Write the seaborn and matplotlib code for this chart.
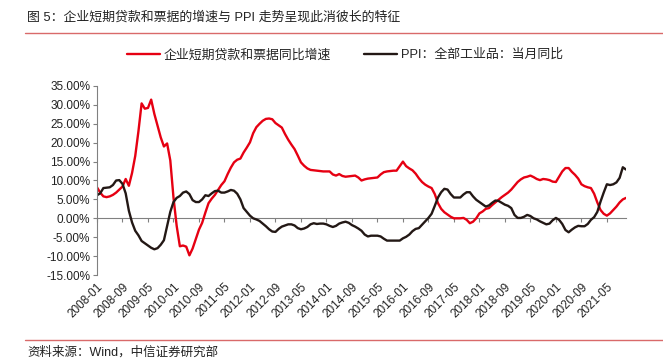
import pandas as pd
import seaborn as sns
import matplotlib.pyplot as plt
from matplotlib.lines import Line2D
from matplotlib.ticker import FuncFormatter

months = pd.date_range("2008-01-01", periods=167, freq="MS").strftime("%Y-%m").tolist()

# 企业短期贷款和票据同比增速 (%)
loan_growth = [
    8.2, 6.8, 5.8, 5.6, 5.8, 6.2, 6.8, 7.6, 8.4, 10.4, 8.6, 12.0,
    16.5, 23.0, 30.4, 29.0, 29.2, 31.4, 27.6, 24.5, 21.4, 19.0, 19.8, 15.3,
    5.5, -2.0, -7.4, -7.2, -7.5, -9.8, -8.0, -5.5, -3.0, -1.2, 1.5, 4.0,
    5.2, 6.2, 7.5, 8.8, 9.8, 11.7, 13.4, 14.8, 15.5, 15.8, 17.4, 18.7,
    20.1, 22.5, 24.1, 25.0, 25.8, 26.3, 26.4, 26.2, 25.2, 24.6, 24.0, 22.3,
    20.8, 19.5, 18.3, 16.6, 14.8, 13.9, 13.2, 12.8, 12.7, 12.6, 12.5, 12.4,
    12.4, 12.4, 11.6, 11.3, 11.7, 11.2, 11.0, 11.1, 11.2, 11.3, 10.8, 10.0,
    10.3, 10.5, 10.6, 10.7, 10.8, 11.6, 12.2, 12.4, 12.5, 12.6, 12.6, 13.8,
    15.0, 13.8, 13.2, 12.7, 11.8, 10.6, 9.6, 8.9, 8.4, 8.0, 6.4, 4.0,
    2.5, 1.6, 1.0, 0.4, 0.0, 0.0, 0.0, 0.1, -0.4, -1.3, -0.9, 0.0,
    1.3, 1.8, 2.5, 2.7, 3.5, 4.2, 4.9, 5.6, 6.2, 6.8, 7.6, 8.6,
    9.6, 10.3, 10.8, 11.0, 11.3, 10.9, 10.4, 10.1, 10.4, 10.3, 10.1, 9.7,
    9.6, 11.0, 12.4, 13.3, 13.3, 12.3, 11.5, 10.5, 9.0, 8.5, 8.2, 8.0,
    6.5, 4.2, 2.2, 1.2, 0.7, 1.3, 2.2, 3.1, 4.2, 5.0, 5.4,
]

# PPI：全部工业品：当月同比 (%)
ppi = [
    6.1, 6.6, 8.0, 8.1, 8.2, 8.8, 10.0, 10.1, 9.1, 6.6, 2.0, -1.1,
    -3.3, -4.5, -6.0, -6.6, -7.2, -7.8, -8.2, -7.9, -7.0, -5.8, -2.1, 1.7,
    4.3, 5.4, 5.9, 6.8, 7.1, 6.4, 4.8, 4.3, 4.3, 5.0, 6.1, 5.9,
    6.6, 7.2, 7.3, 6.8, 6.8, 7.1, 7.5, 7.3, 6.5, 5.0, 2.7, 1.7,
    0.7, 0.0, -0.3, -0.7, -1.4, -2.1, -2.9, -3.5, -3.6, -2.8, -2.2, -1.9,
    -1.6, -1.6, -1.9, -2.6, -2.9, -2.7, -2.3, -1.6, -1.3, -1.5, -1.4, -1.4,
    -1.6, -2.0, -2.3, -2.0, -1.4, -1.1, -0.9, -1.2, -1.8, -2.2, -2.7, -3.3,
    -4.3, -4.8, -4.6, -4.6, -4.6, -4.8, -5.4, -5.9, -5.9, -5.9, -5.9, -5.9,
    -5.3, -4.9, -4.3, -3.4, -2.8, -2.6, -1.7, -0.8, 0.1, 1.2, 3.3, 5.5,
    6.9, 7.8, 7.6, 6.4, 5.5, 5.5, 5.5, 6.3, 6.9, 6.9, 5.8, 4.9,
    4.3, 3.7, 3.1, 3.4, 4.1, 4.7, 4.6, 4.1, 3.6, 3.3, 2.7, 0.9,
    0.1, 0.1, 0.4, 0.9, 0.6, 0.0, -0.3, -0.8, -1.2, -1.6, -1.4, -0.5,
    0.1, -0.4, -1.5, -3.1, -3.7, -3.0, -2.4, -2.0, -2.1, -2.1, -1.5, -0.4,
    0.3, 1.7, 4.4, 6.8, 9.0, 8.8, 9.0, 9.5, 10.7, 13.5, 12.9,
]

loan_label = "企业短期贷款和票据同比增速"
ppi_label = "PPI：全部工业品：当月同比"
title = "图 5：企业短期贷款和票据的增速与 PPI 走势呈现此消彼长的特征"
source = "资料来源：Wind，中信证券研究部"

df = pd.DataFrame({
    "idx": range(len(months)),
    "month": months,
    "loan": loan_growth,
    "ppi": ppi,
})

sns.set_theme(style="white")
plt.rcParams["font.family"] = ["Liberation Sans", "Noto Sans CJK SC"]

fig = plt.figure(figsize=(6.63, 3.6), dpi=100)
ax = fig.add_axes([97 / 663, 1 - 275 / 360, 529 / 663, 189 / 360])

sns.lineplot(data=df, x="idx", y="loan", ax=ax, color="#e60012", lw=1.7,
             label=loan_label, legend=False)
sns.lineplot(data=df, x="idx", y="ppi", ax=ax, color="#231815", lw=1.7,
             label=ppi_label, legend=False)

ax.set_xlim(0, len(months) - 1)
ax.set_ylim(-15, 35)
ax.set_xlabel("")
ax.set_ylabel("")

# y axis
ax.set_yticks(range(-15, 36, 5))
ax.yaxis.set_major_formatter(FuncFormatter(lambda v, p: f"{v:.2f}%"))
ax.tick_params(axis="y", left=True, direction="out", length=3, width=0.8,
               color="#808080", labelsize=8.5, labelcolor="#222222", pad=2)

# x axis line sits at 0, labels at the bottom
for s in ["top", "right"]:
    ax.spines[s].set_visible(False)
ax.spines["left"].set_color("#808080")
ax.spines["left"].set_linewidth(0.8)
ax.spines["bottom"].set_position(("data", 0))
ax.spines["bottom"].set_color("#808080")
ax.spines["bottom"].set_linewidth(0.8)
ax.spines["bottom"].set_zorder(0)

tick_idx = list(range(0, len(months), 8))
ax.set_xticks(tick_idx)
ax.tick_params(axis="x", bottom=True, labelbottom=False, direction="out",
               length=3, width=0.8, color="#808080")

sec = ax.secondary_xaxis("bottom")
sec.set_xticks(tick_idx, labels=[months[i] for i in tick_idx])
sec.spines["bottom"].set_visible(False)
sec.tick_params(axis="x", length=0, pad=4, labelsize=8.5, labelcolor="#222222")
for lab in sec.get_xticklabels():
    lab.set_rotation(45)
    lab.set_ha("right")
    lab.set_rotation_mode("anchor")

# legend
handles, labels = ax.get_legend_handles_labels()
fig.legend(handles, labels, loc="center", bbox_to_anchor=(345 / 663, 1 - 55 / 360),
           ncol=2, frameon=False, fontsize=9.3, handlelength=2.5,
           handletextpad=0.3, columnspacing=2.6)

# title, rules and source
fig.text(27 / 663, 1 - 17 / 360, title, fontsize=9.3, ha="left", va="center",
         color="#222222")
fig.add_artist(Line2D([25 / 663, 1], [1 - 33 / 360] * 2, color="#d96a6a", lw=1.0))
fig.add_artist(Line2D([25 / 663, 1], [1 - 340 / 360] * 2, color="#d96a6a", lw=1.0))
fig.text(27 / 663, 1 - 352 / 360, source, fontsize=9.0, ha="left", va="center",
         color="#222222")

fig.savefig("out.png", dpi=100, facecolor="white")
